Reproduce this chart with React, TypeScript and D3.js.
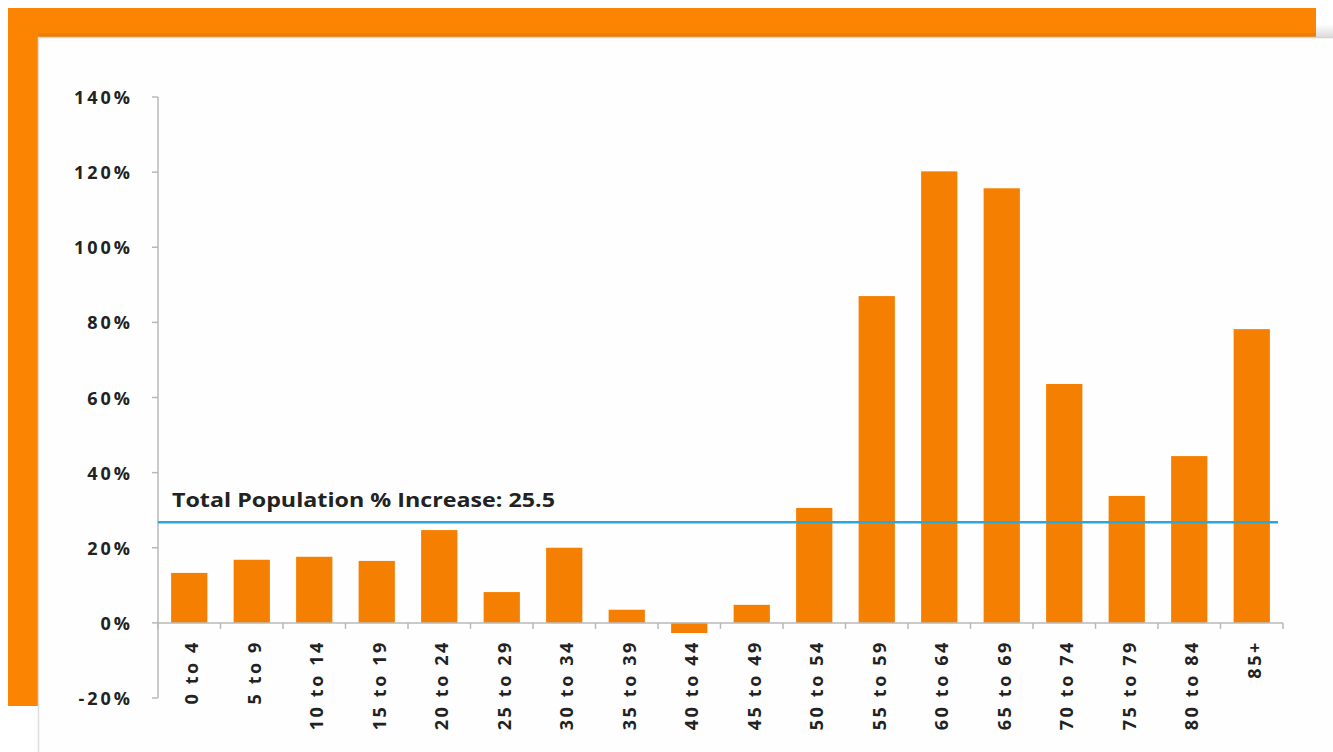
import React from "react";
import * as d3 from "d3";

const categories = ["0 to 4","5 to 9","10 to 14","15 to 19","20 to 24","25 to 29","30 to 34","35 to 39","40 to 44","45 to 49","50 to 54","55 to 59","60 to 64","65 to 69","70 to 74","75 to 79","80 to 84","85+"];
const values = [13.3,16.8,17.6,16.5,24.7,8.2,20.0,3.5,-2.7,4.8,30.6,87.0,120.2,115.7,63.6,33.8,44.4,78.2];
const yTicks = [-20,0,20,40,60,80,100,120,140];
const refLineValue = 26.8;
const refLabel = "Total Population % Increase: 25.5";

const W = 1333, H = 752;
const FONT = "'Open Sans', 'DejaVu Sans', sans-serif";

export default function App() {
  const x = d3.scaleBand<string>().domain(categories).range([158, 1283]).paddingInner(0.42).paddingOuter(0.21);
  const y = d3.scaleLinear().domain([-20, 140]).range([698, 97]);
  const step = x.step();
  const y0 = y(0);
  const xStart = 158, xEnd = 1283;

  return (
    <svg width={W} height={H} style={{ position: "absolute", left: 0, top: 0, display: "block" }}>
      <defs>
        <linearGradient id="shadeTop" x1="0" y1="0" x2="0" y2="1">
          <stop offset="0" stopColor="#ffffff" />
          <stop offset="1" stopColor="#dcdcdc" />
        </linearGradient>
      </defs>
      <rect x={0} y={0} width={W} height={H} fill="#ffffff" />
      <rect x={8} y={8} width={1308} height={698} fill="#fb8402" />
      <rect x={38} y={33} width={1278} height={4} fill="#e57a06" opacity={0.6} />
      <rect x={1316} y={24} width={17} height={13} fill="url(#shadeTop)" />
      <rect x={38} y={37} width={W - 38} height={H - 37} fill="#fefefe" />
      <line x1={38} y1={37.5} x2={W} y2={37.5} stroke="#d4d4d4" strokeWidth={1.5} />
      <line x1={38.5} y1={37} x2={38.5} y2={H} stroke="#dedede" strokeWidth={1.5} />

      {/* y axis */}
      <line x1={xStart} y1={y(140)} x2={xStart} y2={y(-20)} stroke="#b8b8b8" strokeWidth={1.5} />
      {yTicks.map((t) => (
        <g key={t}>
          <line x1={xStart - 6} y1={y(t)} x2={xStart} y2={y(t)} stroke="#b8b8b8" strokeWidth={1.5} />
          <text x={133} y={y(t)} textAnchor="end" dominantBaseline="central" fontFamily={FONT} fontWeight={700} fontSize={18} letterSpacing={3} fill="#222">
            {t}%
          </text>
        </g>
      ))}

      {/* bars */}
      {categories.map((c, i) => {
        const v = values[i];
        const top = Math.min(y(v), y0);
        const h = Math.abs(y(v) - y0);
        return <rect key={c} x={x(c)} y={top} width={x.bandwidth()} height={h} fill="#f57f00" />;
      })}

      {/* x axis */}
      <line x1={xStart} y1={y0} x2={xEnd} y2={y0} stroke="#b8b8b8" strokeWidth={1.5} />
      {d3.range(categories.length + 1).map((i) => (
        <line key={i} x1={xStart + i * step} y1={y0} x2={xStart + i * step} y2={y0 + 6} stroke="#b8b8b8" strokeWidth={1.5} />
      ))}
      {categories.map((c) => {
        const cx = (x(c) as number) + x.bandwidth() / 2 + 2;
        return (
          <text key={c} transform={`translate(${cx},640) rotate(-90)`} textAnchor="end" dominantBaseline="central" fontFamily={FONT} fontWeight={700} fontSize={18} letterSpacing={2.6} fill="#222">
            {c}
          </text>
        );
      })}

      {/* reference line */}
      <line x1={xStart} y1={y(refLineValue)} x2={1278} y2={y(refLineValue)} stroke="#2aa7dc" strokeWidth={2.5} />
      <text x={172} y={507} fontFamily={FONT} fontWeight={700} fontSize={19} textLength={383} lengthAdjust="spacingAndGlyphs" fill="#222">
        {refLabel}
      </text>
    </svg>
  );
}
